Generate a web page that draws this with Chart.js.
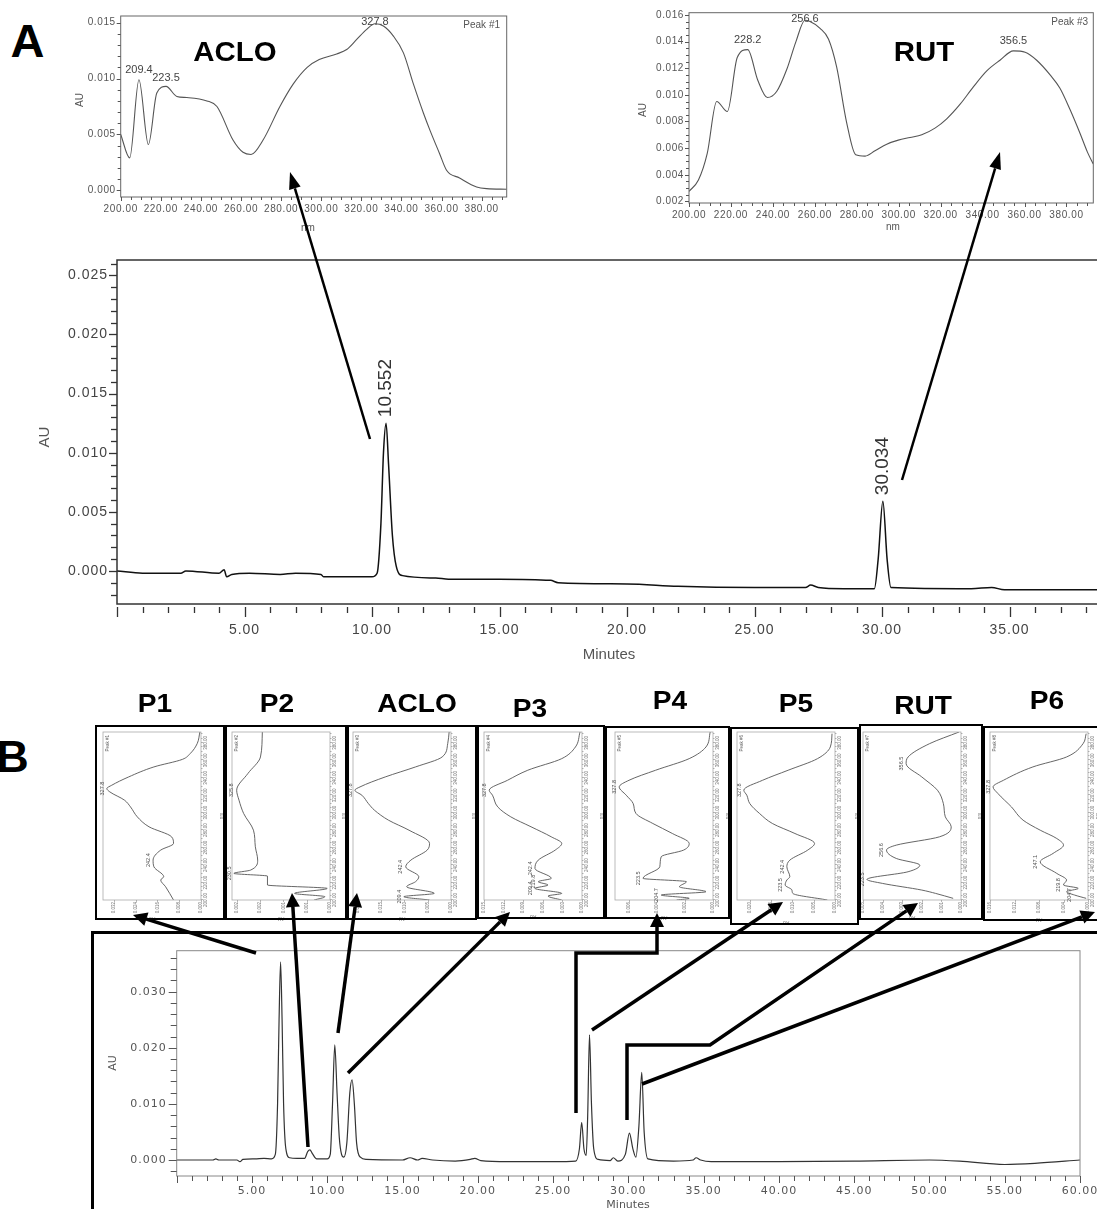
<!DOCTYPE html>
<html><head><meta charset="utf-8">
<script src="https://cdn.jsdelivr.net/npm/chart.js@4.4.1/dist/chart.umd.min.js"></script>
<style>
html,body{margin:0;padding:0;width:1097px;height:1209px;overflow:hidden;background:#fff;}
canvas{position:absolute;}
.lbl{position:absolute;font-family:"Liberation Sans",Arial,sans-serif;font-weight:bold;color:#000;white-space:nowrap;transform:translate(-50%,-50%);line-height:1;}
.box{position:absolute;border:2px solid #000;box-sizing:border-box;}
</style></head><body>
<script>
// ---------------- DATA ----------------
// Panel A chromatogram (minutes, AU)
const chromA_time = [0,1,2.5,2.7,4.0,4.2,4.3,4.5,5.2,6.4,7.0,8.0,8.1,10.0,10.2,10.35,10.45,10.552,10.65,10.8,10.95,11.2,12.5,13,15,17,17.3,20,22,25,27,27.2,27.5,28.5,29.7,29.85,30.034,30.2,30.35,33.5,34.3,34.8,35.5,40];
const chromA_au = [0,-0.0002,-0.0002,0,-0.0002,0.0001,-0.0005,-0.0003,-0.0002,-0.0003,-0.0002,-0.0003,-0.0005,-0.0005,-0.0002,0.004,0.010,0.0125,0.009,0.003,0.0004,-0.0004,-0.0006,-0.0007,-0.0007,-0.0008,-0.0010,-0.0011,-0.0013,-0.0014,-0.0014,-0.0012,-0.0014,-0.0015,-0.0015,0.001,0.0059,0.001,-0.0014,-0.0015,-0.0014,-0.0016,-0.0016,-0.0016];
const peakA_time = [10.552, 30.034];
const peakA_label = ['10.552', '30.034'];

// Panel A UV spectra
const specACLO_nm = [200,204.5,209.1,213.8,218,222.6,228,233,243,248,256,261,265,271,279.4,286,293,299,307.7,312.7,317.7,322.7,326.8,331,336,341,346,351,354.4,359,362.5,369,377.5,382.5,392.5];
const specACLO_au = [0.0050,0.0029,0.0099,0.0041,0.0087,0.0093,0.0084,0.0083,0.0080,0.0075,0.0045,0.0034,0.0032,0.0045,0.0075,0.0095,0.0110,0.0117,0.0122,0.0126,0.0135,0.0144,0.0149,0.0147,0.0138,0.0123,0.0095,0.0069,0.0053,0.0033,0.0018,0.0011,0.0003,0.00015,0.0001];
const specACLO_peaks = [209.1, 222.6, 326.8];
const specACLO_peakText = ['209.4', '223.5', '327.8'];

const specRUT_nm = [200,204.5,208.7,213.2,218.3,223,228,232.8,237.4,241.8,246.6,251,255.3,257.7,262.5,266.5,270.4,275.2,279.5,284,288.7,294.3,299.8,305.4,311,317.3,322.9,329.3,335.6,342,348.3,354.7,360.3,365.8,372.2,376.9,381.7,386.5,390,392.8];
const specRUT_au = [0.00275,0.0036,0.0056,0.0095,0.00875,0.0128,0.0134,0.0111,0.0098,0.01025,0.0119,0.0140,0.0156,0.0155,0.0150,0.0142,0.0121,0.0079,0.0055,0.0054,0.0058,0.0063,0.0066,0.0068,0.0070,0.0075,0.0082,0.0093,0.0106,0.0118,0.0126,0.0133,0.0132,0.0126,0.0115,0.0105,0.0089,0.0071,0.0057,0.0048];
const specRUT_peaks = [228, 255.3, 354.7];
const specRUT_peakText = ['228.2', '256.6', '356.5'];

// Panel B chromatogram (minutes, AU)
const chromB_time = [0,2.4,2.6,2.8,4.0,4.2,4.4,5.2,5.8,6.3,6.55,6.7,6.8,6.9,7.0,7.1,7.25,7.5,8.0,8.5,8.7,8.85,9.0,9.3,10.0,10.2,10.35,10.5,10.65,10.8,10.95,11.1,11.3,11.5,11.65,11.8,11.95,12.2,12.6,15.0,15.5,16.0,16.3,17.0,18.5,19.5,19.8,20.2,22,25,26.5,26.75,26.9,27.05,27.2,27.3,27.42,27.55,27.7,28.0,28.8,29.0,29.3,29.8,30.07,30.3,30.5,30.7,30.89,31.05,31.3,33,34.3,34.5,34.8,35.5,40,45,50,52,55,57,60];
const chromB_au = [0,0,0.0002,0,0,-0.0003,0.0001,0.0002,0.0003,0.0002,0.001,0.010,0.025,0.0353,0.025,0.010,0.002,0.0004,0.0003,0.0003,0.0015,0.0018,0.0012,0.0002,0.0002,0.001,0.010,0.0205,0.012,0.004,0.001,0.0005,0.003,0.012,0.0143,0.010,0.003,0.0005,0.0001,0,0.0004,0,0.0003,0,-0.0002,0.0001,0.0003,-0.0001,-0.0003,-0.0003,-0.0002,0.002,0.0067,0.002,0.0008,0.008,0.0223,0.010,0.002,0.0001,-0.0001,0.0004,-0.0002,0.001,0.0048,0.002,0.0005,0.006,0.0156,0.005,0.0002,-0.0002,0,0.0004,0,-0.0003,-0.0003,-0.0002,0,-0.0002,-0.0008,-0.0006,0];

// Panel B spectra (one per peak)
const boxNames = ['P1','P2','ACLO','P3','P4','P5','RUT','P6'];
const boxPeakTitles = ['Peak #1','Peak #2','Peak #3','Peak #4','Peak #5','Peak #6','Peak #7','Peak #8'];
const spP1_nm = [200,215.2,222.9,226.7,238.1,245.7,257.2,264.8,272.4,283.9,295.3,306.7,314.4,323.9,327.7,331.5,341,352.5,361.2,367.7,379.2,392.5];
const spP1_au = [0.0101,0.0130,0.0148,0.0137,0.0173,0.0176,0.0148,0.0101,0.0108,0.0191,0.0234,0.0259,0.0281,0.0335,0.0346,0.0328,0.0266,0.0173,0.0068,0.0040,0.0014,0.0004];
const spP2_nm = [200,203.8,207.6,213.3,217.2,227.4,230.5,234.3,245.7,261,280,299.1,314.4,325.8,344.9,363.9,392.5];
const spP2_au = [0.00034,0.00011,0.00076,0.00006,0.00134,0.00134,0.00206,0.00170,0.00155,0.00160,0.00164,0.00185,0.00195,0.00200,0.00176,0.00149,0.00145];
const spACLO_nm = [200,203.8,207.6,215.2,221,226.7,238.1,245.7,257.2,264.8,280,291.5,302.9,310.5,320.1,325.8,329.6,341,352.5,363.9,379.2,392.5];
const spACLO_au = [0.0046,0.0101,0.0036,0.0095,0.0076,0.0069,0.0097,0.0086,0.0051,0.0046,0.0090,0.0134,0.0164,0.0177,0.0191,0.0206,0.0195,0.0141,0.0076,0.0019,0.0007,0.0004];
const spP3_nm = [200,204.6,207.6,213.3,217.2,221,224.8,236.2,245.7,257.2,264.8,272.4,283.9,295.3,306.7,320.1,325.8,337.2,348.7,362,375.4,392.5];
const spP3_au = [0.0031,0.0052,0.0031,0.0072,0.0052,0.0067,0.0047,0.0072,0.0067,0.0041,0.0031,0.0047,0.0078,0.0109,0.0129,0.0137,0.0142,0.0114,0.0083,0.0031,0.0010,0.0003];
const spP4_nm = [200,201.9,205.7,209.5,215.2,221,224.8,238.1,249.6,257.2,264.8,276.2,287.7,299.1,310.5,320.1,329.6,337.2,348.7,362,375.4,392.5];
const spP4_au = [0.0026,0.0017,0.0037,0.0005,0.0024,0.0019,0.0050,0.0038,0.0037,0.0021,0.0017,0.0029,0.0043,0.0055,0.0057,0.0062,0.0067,0.0060,0.0041,0.0017,0.0005,0.0002];
const spP5_nm = [200,207.6,211.4,217.2,222.9,226.7,238.1,245.7,257.2,264.8,276.2,287.7,299.1,310.5,320.1,325.8,337.2,348.7,362,375.4,390.6];
const spP5_au = [0.0018,0.0099,0.0101,0.0117,0.0113,0.0106,0.0113,0.0106,0.0064,0.0048,0.0094,0.0147,0.0177,0.0200,0.0207,0.0214,0.0170,0.0110,0.0041,0.0011,0.0007];
const spRUT_nm = [201.9,207.6,211.4,219,223.6,232.4,240,247.6,257.2,262.9,272.4,283.9,295.3,310.5,325.8,341,356.3,363.9,379.2,392.5];
const spRUT_au = [0.0004,0.0013,0.0020,0.0040,0.0048,0.0027,0.0021,0.0033,0.0038,0.0033,0.0011,0.0005,0.0008,0.0009,0.0012,0.0020,0.0028,0.0027,0.0016,0.0001];
const spP6_nm = [201.9,205.7,209.5,213.3,217.2,222.9,230.5,243.8,253.4,262.9,270.5,280,291.5,306.7,322,329.6,337.2,352.5,363.9,379.2,390.6];
const spP6_au = [0.0003,0.0022,0.0035,0.0016,0.0040,0.0035,0.0051,0.0078,0.0057,0.0040,0.0051,0.0078,0.0106,0.0125,0.0147,0.0155,0.0138,0.0090,0.0035,0.0008,0.0003];
const boxSpectra = [[spP1_nm,spP1_au],[spP2_nm,spP2_au],[spACLO_nm,spACLO_au],[spP3_nm,spP3_au],[spP4_nm,spP4_au],[spP5_nm,spP5_au],[spRUT_nm,spRUT_au],[spP6_nm,spP6_au]];
const boxAuMax = [0.036,0.0021,0.021,0.015,0.007,0.023,0.005,0.016];
const boxAuStep = [0.008,0.0005,0.005,0.003,0.002,0.005,0.001,0.004];
const boxPeakNm = [[327.7,245.7],[325.8,230.5],[325.8,238.1,203.8],[325.8,236.2,221,213.3],[329.6,224.8,205.7],[325.8,238.1,217.2],[356.3,257.2,223.6],[329.6,243.8,217.2,205.7]];
const boxPeakText = [['327.8','242.4'],['325.8','230.5'],['327.8','242.4','209.4'],['327.8','242.4','219.8','209.4'],['327.8','223.5','204.7'],['327.8','242.4','223.5'],['356.5','256.6','223.5'],['327.8','247.1','219.8','204.7']];

// ---------------- HELPERS ----------------
function stepsIn(min, max, step){const o=[];for(let k=Math.ceil(min/step-1e-9);k*step<=max+1e-9;k++)o.push(k*step);return o;}
const decor = {
  id:'decor',
  beforeDraw(chart,args,o){ if(o && o.ls) chart.ctx.letterSpacing=o.ls; },
  afterDraw(chart,args,o){
    if(!o) return;
    const ctx=chart.ctx,a=chart.chartArea,xs=chart.scales.x,ys=chart.scales.y;
    ctx.save(); ctx.letterSpacing='0px';
    if(o.frame){ctx.strokeStyle=o.frame.color;ctx.lineWidth=o.frame.width;ctx.strokeRect(a.left,a.top,a.right-a.left,a.bottom-a.top);}
    if(o.xt){const t=o.xt;ctx.strokeStyle=t.color;ctx.lineWidth=t.width;
      for(const v of stepsIn(xs.min,xs.max,t.minor)){const maj=Math.abs(v/t.major-Math.round(v/t.major))<1e-6;
        const px=Math.round(xs.getPixelForValue(v))+0.5;ctx.beginPath();ctx.moveTo(px,a.bottom+t.gap);ctx.lineTo(px,a.bottom+t.gap+(maj?t.maj:t.min));ctx.stroke();}}
    if(o.yt){const t=o.yt;ctx.strokeStyle=t.color;ctx.lineWidth=t.width;
      for(const v of stepsIn(ys.min,ys.max,t.minor)){const maj=Math.abs(v/t.major-Math.round(v/t.major))<1e-6;
        const py=Math.round(ys.getPixelForValue(v))+0.5;ctx.beginPath();ctx.moveTo(a.left-t.gap,py);ctx.lineTo(a.left-t.gap-(maj?t.maj:t.min),py);ctx.stroke();}}
    for(const t of (o.titles||[])){ctx.save();ctx.font=t.font;ctx.fillStyle=t.color;ctx.textAlign=t.align||'center';ctx.textBaseline='middle';
      ctx.translate(t.x,t.y);if(t.rot)ctx.rotate(-Math.PI/2);ctx.fillText(t.text,0,0);ctx.restore();}
    for(const p of (o.peaks||[])){ctx.save();ctx.font=p.font;ctx.fillStyle=p.color;
      const px=xs.getPixelForValue(p.x),py=ys.getPixelForValue(p.y)-p.dy;ctx.translate(px,py);
      if(p.rot){ctx.rotate(-Math.PI/2);ctx.textAlign='left';ctx.textBaseline='middle';}else{ctx.textAlign='center';ctx.textBaseline='bottom';}
      ctx.fillText(p.text,0,0);ctx.restore();}
    ctx.restore();
  }
};
Chart.register(decor);

function makeChart(cv,g){
  cv.width=g.w;cv.height=g.h;cv.style.width=g.w+'px';cv.style.height=g.h+'px';
  const pts=g.xs.map((v,i)=>({x:v,y:g.ys[i]}));
  return new Chart(cv.getContext('2d'),{
    type:'line',
    data:{datasets:[{data:pts,borderColor:g.lineColor,borderWidth:g.lineWidth,pointRadius:0,fill:false,cubicInterpolationMode:'monotone'}]},
    options:{
      responsive:false,animation:false,devicePixelRatio:1,events:[],
      layout:{padding:{left:0,top:g.plot.t,right:g.w-g.plot.r,bottom:0}},
      plugins:{legend:{display:false},tooltip:{enabled:false},decor:g.decor},
      scales:{
        x:{type:'linear',min:g.x.min,max:g.x.max,
          afterFit:s=>{s.height=g.h-g.plot.b;s.paddingLeft=0;s.paddingRight=0;},
          grid:{display:false,drawTicks:false},border:{display:false},
          ticks:{stepSize:g.x.step,autoSkip:false,maxRotation:0,minRotation:0,includeBounds:false,padding:g.x.pad,font:g.x.font,color:g.x.color,callback:g.x.cb}},
        y:{type:'linear',min:g.y.min,max:g.y.max,
          afterFit:s=>{s.width=g.plot.l;s.paddingTop=0;s.paddingBottom=0;},
          grid:{display:false,drawTicks:false},border:{display:false},
          ticks:{stepSize:g.y.step,autoSkip:false,includeBounds:false,padding:g.y.pad,font:g.y.font,color:g.y.color,callback:g.y.cb}}
      }
    }
  });
}
function addCanvas(left,top){const c=document.createElement('canvas');c.style.left=left+'px';c.style.top=top+'px';document.body.appendChild(c);return c;}
function addLabel(text,x,y,size,sx){const d=document.createElement('div');d.className='lbl';d.textContent=text;d.style.left=x+'px';d.style.top=y+'px';d.style.fontSize=size+'px';if(sx)d.style.transform='translate(-50%,-50%) scaleX('+sx+')';document.body.appendChild(d);return d;}
const nearest=(arrX,arrY,x)=>{let bi=0;arrX.forEach((v,i)=>{if(Math.abs(v-x)<Math.abs(arrX[bi]-x))bi=i;});return arrY[bi];};

// ---------------- PANEL A ----------------
const fA='"Liberation Sans", Arial, sans-serif';
makeChart(addCanvas(0,250),{
  w:1150,h:430,plot:{l:117,t:10,r:1137,b:354},
  xs:chromA_time,ys:chromA_au,lineColor:'#111',lineWidth:1.5,
  x:{min:0,max:40,step:5,pad:18,font:{family:fA,size:14},color:'#444',cb:v=>v===0?'':v.toFixed(2)},
  y:{min:-0.0028,max:0.0263,step:0.005,pad:9,font:{family:fA,size:14},color:'#444',cb:v=>v.toFixed(3)},
  decor:{ls:'1px',frame:{color:'#333',width:1.5},
    xt:{minor:1,major:5,gap:3,min:6,maj:10,color:'#333',width:1.3},
    yt:{minor:0.001,major:0.005,gap:0,min:6,maj:8,color:'#333',width:1.3},
    titles:[{text:'AU',x:45,y:187,rot:true,font:'15px '+fA,color:'#555'},{text:'Minutes',x:609,y:405,font:'15px '+fA,color:'#555'}],
    peaks:peakA_time.map((t,i)=>({x:t,y:nearest(chromA_time,chromA_au,t),text:peakA_label[i],dy:6,rot:true,font:'19px '+fA,color:'#333'}))}
});
makeChart(addCanvas(60,0),{
  w:460,h:240,plot:{l:60.7,t:16,r:446.7,b:197},
  xs:specACLO_nm,ys:specACLO_au,lineColor:'#555',lineWidth:1.1,
  x:{min:200,max:392.5,step:20,pad:6,font:{family:fA,size:10},color:'#555',cb:v=>v.toFixed(2)},
  y:{min:-0.0006,max:0.0156,step:0.005,pad:5,font:{family:fA,size:10},color:'#555',cb:v=>v.toFixed(3)},
  decor:{ls:'0.6px',frame:{color:'#666',width:1},
    xt:{minor:5,major:20,gap:0,min:3,maj:4,color:'#555',width:1},
    yt:{minor:0.001,major:0.005,gap:0,min:3,maj:4,color:'#555',width:1},
    titles:[{text:'AU',x:20.7,y:100,rot:true,font:'10px '+fA,color:'#555'},{text:'nm',x:248,y:228,font:'10px '+fA,color:'#555'},
            {text:'Peak #1',x:440,y:25,align:'right',font:'10px '+fA,color:'#555'}],
    peaks:specACLO_peaks.map((p,i)=>({x:p,y:nearest(specACLO_nm,specACLO_au,p),text:specACLO_peakText[i],dy:[4,3,-4][i],font:'11px '+fA,color:'#444'}))}
});
makeChart(addCanvas(620,0),{
  w:480,h:245,plot:{l:69,t:12.7,r:473.3,b:203},
  xs:specRUT_nm,ys:specRUT_au,lineColor:'#555',lineWidth:1.1,
  x:{min:200,max:392.8,step:20,pad:6,font:{family:fA,size:10},color:'#555',cb:v=>v.toFixed(2)},
  y:{min:0.00188,max:0.01617,step:0.002,pad:5,font:{family:fA,size:10},color:'#555',cb:v=>v.toFixed(3)},
  decor:{ls:'0.6px',frame:{color:'#666',width:1},
    xt:{minor:5,major:20,gap:0,min:3,maj:4,color:'#555',width:1},
    yt:{minor:0.0005,major:0.002,gap:0,min:3,maj:4,color:'#555',width:1},
    titles:[{text:'AU',x:23,y:110,rot:true,font:'10px '+fA,color:'#555'},{text:'nm',x:273,y:227,font:'10px '+fA,color:'#555'},
            {text:'Peak #3',x:468,y:22,align:'right',font:'10px '+fA,color:'#555'}],
    peaks:specRUT_peaks.map((p,i)=>({x:p,y:nearest(specRUT_nm,specRUT_au,p),text:specRUT_peakText[i],dy:[4,-4,4][i],font:'11px '+fA,color:'#444'}))}
});

// ---------------- PANEL B ----------------
const fB='"DejaVu Sans", sans-serif';
makeChart(addCanvas(95,935),{
  w:1002,h:290,plot:{l:81.7,t:15.7,r:985,b:241},
  xs:chromB_time,ys:chromB_au,lineColor:'#333',lineWidth:1.2,
  x:{min:0,max:60,step:5,pad:9,font:{family:fB,size:11},color:'#555',cb:v=>v===0?'':v.toFixed(2)},
  y:{min:-0.00285,max:0.0373,step:0.01,pad:10,font:{family:fB,size:11},color:'#555',cb:v=>v.toFixed(3)},
  decor:{ls:'1px',frame:{color:'#888',width:1},
    xt:{minor:1,major:5,gap:0,min:5,maj:7,color:'#555',width:1},
    yt:{minor:0.002,major:0.01,gap:0,min:6,maj:8,color:'#555',width:1},
    titles:[{text:'AU',x:18,y:128,rot:true,font:'11px '+fB,color:'#555'},{text:'Minutes',x:533,y:270,font:'11px '+fB,color:'#555'}]}
});

const boxRects=[[95,725,225,920],[225,725,347,920],[347,725,477,920],[477,725,605,919],[605,726,730,919],[730,727,859,925],[859,724,983,920],[983,726,1100,921]];
const boxPlotL=[103,232,353,484,615,737,863,990];
const boxLabelPos=[[155,703],[277,703],[417,703],[530,708],[670,700],[796,703],[923,705],[1047,700]];
boxRects.forEach((r,i)=>{
  const [L,T,R,B]=r;
  const Wp=Math.ceil((R-L)/2)*2, Hp=Math.ceil((B-T)/2)*2, Bc=T+Hp;
  const pl=boxPlotL[i],pr=pl+98,pt=732,pb=900;
  const cv=addCanvas(L+Wp/2-Hp/2,T+Hp/2-Wp/2);
  cv.style.transform='rotate(-90deg)';
  const plot={l:Bc-pb,r:Bc-pt,t:pl-L,b:pr-L};
  const [nm,au]=boxSpectra[i];
  makeChart(cv,{
    w:Hp,h:Wp,plot,
    xs:nm,ys:au,lineColor:'#555',lineWidth:0.9,
    x:{min:200,max:392.5,step:20,pad:2,font:{family:fA,size:4.5},color:'#777',cb:v=>v.toFixed(2)},
    y:{min:0,max:boxAuMax[i],step:boxAuStep[i],pad:2,font:{family:fA,size:4.5},color:'#777',cb:v=>v.toFixed(3)},
    decor:{frame:{color:'#aaa',width:0.8},
      xt:{minor:5,major:20,gap:0,min:1.5,maj:2.5,color:'#888',width:0.6},
      yt:{minor:boxAuStep[i],major:boxAuStep[i],gap:0,min:2,maj:2,color:'#888',width:0.6},
      titles:[{text:boxPeakTitles[i],x:plot.r-3,y:plot.t+5,align:'right',font:'4.5px '+fA,color:'#666'},
              {text:'nm',x:(plot.l+plot.r)/2,y:Wp-3,font:'4.5px '+fA,color:'#777'},
              {text:'AU',x:3,y:(plot.t+plot.b)/2,rot:true,font:'4.5px '+fA,color:'#777'}],
      peaks:boxPeakNm[i].map((p,k)=>({x:p,y:nearest(nm,au,p),text:boxPeakText[i][k],dy:2,font:'5.5px '+fA,color:'#555'}))}
  });
  const d=document.createElement('div');d.className='box';
  d.style.left=L+'px';d.style.top=T+'px';d.style.width=(R-L)+'px';d.style.height=(B-T)+'px';document.body.appendChild(d);
  addLabel(boxNames[i],boxLabelPos[i][0],boxLabelPos[i][1],26,1.08);
});

const ob=document.createElement('div');ob.style.cssText='position:absolute;left:91px;top:931px;width:1100px;height:400px;border:3px solid #000;box-sizing:border-box;';document.body.appendChild(ob);

addLabel('A',27.5,40,47);
addLabel('B',12.5,756,45);
addLabel('ACLO',235,52,28,1.05);
addLabel('RUT',924,52,28,1.05);

// ---------------- ARROWS (annotation overlay) ----------------
const ov=addCanvas(0,0);ov.width=1097;ov.height=1209;ov.style.zIndex=10;
const octx=ov.getContext('2d');
function arrow(pts,w,hl,hw){
  octx.lineWidth=w;octx.strokeStyle='#000';octx.fillStyle='#000';octx.lineJoin='miter';octx.lineCap='butt';
  const n=pts.length,[x1,y1]=pts[n-2],[x2,y2]=pts[n-1],ang=Math.atan2(y2-y1,x2-x1);
  const bx=x2-hl*Math.cos(ang),by=y2-hl*Math.sin(ang);
  octx.beginPath();octx.moveTo(pts[0][0],pts[0][1]);for(let i=1;i<n-1;i++)octx.lineTo(pts[i][0],pts[i][1]);octx.lineTo(bx,by);octx.stroke();
  octx.beginPath();octx.moveTo(x2,y2);octx.lineTo(bx+hw*Math.sin(ang),by-hw*Math.cos(ang));octx.lineTo(bx-hw*Math.sin(ang),by+hw*Math.cos(ang));octx.closePath();octx.fill();
}
arrow([[370,439],[290,172]],2.5,17,6);
arrow([[902,480],[1000,152]],2.5,17,6);
const bArrows=[
  [[256,953],[133,915]],
  [[308,1147],[292,893]],
  [[338,1033],[357,893]],
  [[348,1073],[510,912]],
  [[576,1113],[576,953],[657,953],[657,913]],
  [[592,1030],[783,902]],
  [[627,1120],[627,1045],[710,1045],[918,903]],
  [[642,1084],[1095,912]]
];
bArrows.forEach(p=>arrow(p,3.5,14,7));
</script>
</body></html>
